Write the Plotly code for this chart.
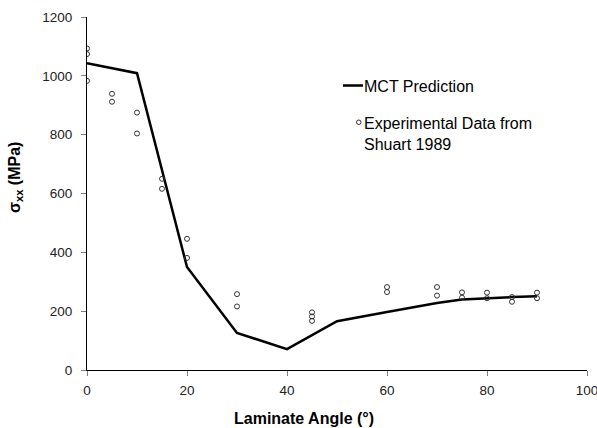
import plotly.graph_objects as go

# MCT prediction of failure stress vs laminate angle
mct_angle = [0, 10, 20, 30, 40, 50, 60, 70, 75, 80, 85, 90]
mct_stress = [1043, 1009, 350, 126, 71, 166, 197, 228, 240, 245, 248, 251]

# Experimental data (Shuart 1989)
exp_angle = [0, 0, 0, 5, 5, 10, 10, 15, 15, 20, 20, 30, 30,
             45, 45, 45, 60, 60, 70, 70, 75, 75, 80, 80, 85, 85, 90, 90]
exp_stress = [1093, 1074, 983, 939, 912, 875, 804, 650, 616, 446, 381, 258, 216,
              196, 182, 167, 282, 265, 282, 253, 264, 246, 263, 244, 248, 232, 263, 244]

x_ticks = [0, 20, 40, 60, 80, 100]
y_ticks = [0, 200, 400, 600, 800, 1000, 1200]

FONT = "Arial, Liberation Sans, sans-serif"

fig = go.Figure()
fig.add_trace(go.Scatter(
    x=mct_angle, y=mct_stress, mode="lines",
    line=dict(color="black", width=2.5),
    name="MCT Prediction", showlegend=False,
))
fig.add_trace(go.Scatter(
    x=exp_angle, y=exp_stress, mode="markers",
    marker=dict(symbol="circle-open", size=5, color="#333333",
                line=dict(width=1, color="#333333")),
    name="Experimental Data from Shuart 1989", showlegend=False,
))

W, H = 597, 428
L, R, T, B = 87, 10, 17, 58
pw, ph = W - L - R, H - T - B


def px(xp):
    return (xp - L) / pw


def py(yp):
    return (H - B - yp) / ph


# legend drawn by hand: short line + small open circle beside the labels
fig.add_shape(type="line", xref="paper", yref="paper",
              x0=px(343), x1=px(363), y0=py(85.5), y1=py(85.5),
              line=dict(color="black", width=2.5))
fig.add_shape(type="circle", xref="paper", yref="paper",
              x0=px(356.5), x1=px(361), y0=py(120), y1=py(124.5),
              line=dict(color="#333333", width=1))

fig.add_annotation(xref="paper", yref="paper", x=px(362), y=py(86),
                   xanchor="left", yanchor="middle", showarrow=False,
                   text="MCT Prediction", font=dict(family=FONT, size=16, color="black"))
fig.add_annotation(xref="paper", yref="paper", x=px(362), y=py(133.5),
                   xanchor="left", yanchor="middle", showarrow=False, align="left",
                   text="Experimental Data from<br>Shuart 1989",
                   font=dict(family=FONT, size=16, color="black"))

# axis titles
fig.add_annotation(xref="paper", yref="paper", x=px(303.5), y=py(418),
                   xanchor="center", yanchor="middle", showarrow=False,
                   text="<b>Laminate Angle (°)</b>",
                   font=dict(family=FONT, size=16, color="black"))
fig.add_annotation(xref="paper", yref="paper", x=px(16), y=py(178),
                   xanchor="center", yanchor="middle", showarrow=False, textangle=-90,
                   text="<b>σ<sub>xx</sub> (MPa)</b>",
                   font=dict(family=FONT, size=16, color="black"))

fig.update_xaxes(
    range=[0, 100], tickvals=x_ticks, ticktext=[str(v) for v in x_ticks],
    showgrid=False, zeroline=False, showline=True, linecolor="black", linewidth=1,
    ticks="outside", ticklen=5, tickcolor="#808080", tickwidth=1,
    ticklabelstandoff=3, ticklabeloverflow="allow", automargin=False,
    tickfont=dict(family=FONT, size=13.5, color="#222222"),
)
fig.update_yaxes(
    range=[0, 1200], tickvals=y_ticks, ticktext=[str(v) for v in y_ticks],
    showgrid=False, zeroline=False, showline=True, linecolor="black", linewidth=1,
    ticks="outside", ticklen=5, tickcolor="#808080", tickwidth=1,
    ticklabelstandoff=6, ticklabeloverflow="allow", automargin=False,
    tickfont=dict(family=FONT, size=13.5, color="#222222"),
)

fig.update_layout(
    width=W, height=H,
    margin=dict(l=L, r=R, t=T, b=B),
    paper_bgcolor="white", plot_bgcolor="white",
    showlegend=False,
)

fig.write_html("out.html")
